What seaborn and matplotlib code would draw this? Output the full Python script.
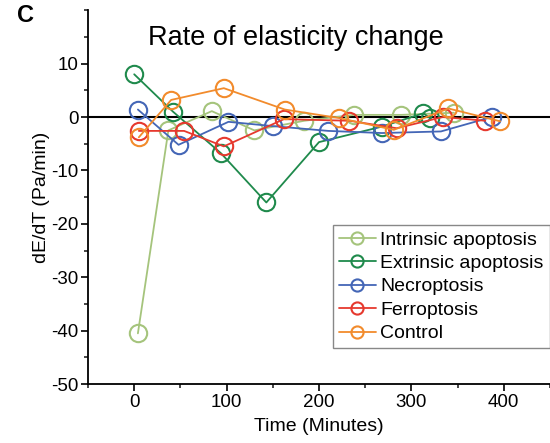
import matplotlib
matplotlib.use('Agg')
import matplotlib.pyplot as plt
import numpy as np
import seaborn as sns
import pandas as pd
from matplotlib.ticker import MultipleLocator

sns.set_style('ticks')
plt.rcParams['font.family'] = ['Liberation Sans', 'DejaVu Sans']
plt.rcParams['axes.unicode_minus'] = False
plt.rcParams['text.color'] = 'black'
plt.rcParams['axes.labelcolor'] = 'black'

names = ['Intrinsic apoptosis', 'Extrinsic apoptosis', 'Necroptosis', 'Ferroptosis', 'Control']
colors = ['#a5c47c', '#1f8a4c', '#4466b6', '#e6392e', '#f28b2c']

intrinsic_t = [4, 37, 84, 130, 184, 238, 289, 346]
intrinsic_v = [-40.5, -2.5, 1.1, -2.5, -0.7, 0.4, 0.4, 0.8]
extrinsic_t = [0, 42, 94, 143, 200, 268, 313, 320]
extrinsic_v = [8.0, 1.0, -6.8, -16.0, -4.7, -1.8, 0.7, -0.2]
necro_t = [4, 48, 102, 150, 210, 268, 332, 387]
necro_v = [1.4, -5.2, -0.9, -1.7, -2.6, -3.0, -2.7, 0.0]
ferro_t = [5, 54, 97, 162, 233, 284, 334, 380]
ferro_v = [-2.6, -2.6, -5.5, -0.4, -0.7, -2.1, 0.0, -0.7]
control_t = [5, 40, 97, 163, 222, 281, 340, 396]
control_v = [-3.8, 3.2, 5.4, 1.4, -0.2, -2.4, 1.6, -0.8]

times = [intrinsic_t, extrinsic_t, necro_t, ferro_t, control_t]
vals = [intrinsic_v, extrinsic_v, necro_v, ferro_v, control_v]

fig = plt.figure(figsize=(5.5, 4.43), dpi=100)
ax = fig.add_axes([0.16, 0.133, 0.84, 0.844])

ax.axhline(0, color='black', lw=1.5, zorder=1)

for name, c, t, v in zip(names, colors, times, vals):
    df = pd.DataFrame({'t': t, 'v': v})
    sns.lineplot(data=df, x='t', y='v', color=c, lw=1.3, marker='o', markersize=12.5,
                 markerfacecolor='none', markeredgecolor=c, markeredgewidth=1.5,
                 sort=False, label=name, ax=ax, zorder=2)

ax.set_xlim(-50, 450)
ax.set_ylim(-50, 20)
ax.set_xticks([0, 100, 200, 300, 400])
ax.set_yticks([-50, -40, -30, -20, -10, 0, 10])
ax.xaxis.set_minor_locator(MultipleLocator(50))
ax.yaxis.set_minor_locator(MultipleLocator(5))
ax.tick_params(which='major', length=5, width=1.2, labelsize=13.5, colors='black', pad=2)
ax.tick_params(which='minor', length=3, width=1.2)
for s in ['top', 'right']:
    ax.spines[s].set_visible(False)
for s in ['left', 'bottom']:
    ax.spines[s].set_linewidth(1.3)
    ax.spines[s].set_color('black')

ax.set_xlabel('Time (Minutes)', fontsize=14, labelpad=5)
ax.set_ylabel('dE/dT (Pa/min)', fontsize=14, labelpad=1)

ax.text(0.45, 0.925, 'Rate of elasticity change', transform=ax.transAxes,
        ha='center', va='center', fontsize=19.5)
fig.text(0.03, 0.965, 'C', fontsize=17, fontweight='bold', ha='left', va='center')

leg = ax.legend(loc='lower left', bbox_to_anchor=(0.53, 0.096), fontsize=14,
                frameon=True, fancybox=False, edgecolor='#888888', framealpha=1,
                handlelength=1.9, handletextpad=0.25, labelspacing=0.3,
                borderpad=0.3, borderaxespad=0, markerscale=0.7)
leg.get_frame().set_linewidth(1.0)

fig.savefig('out.png', dpi=100)
